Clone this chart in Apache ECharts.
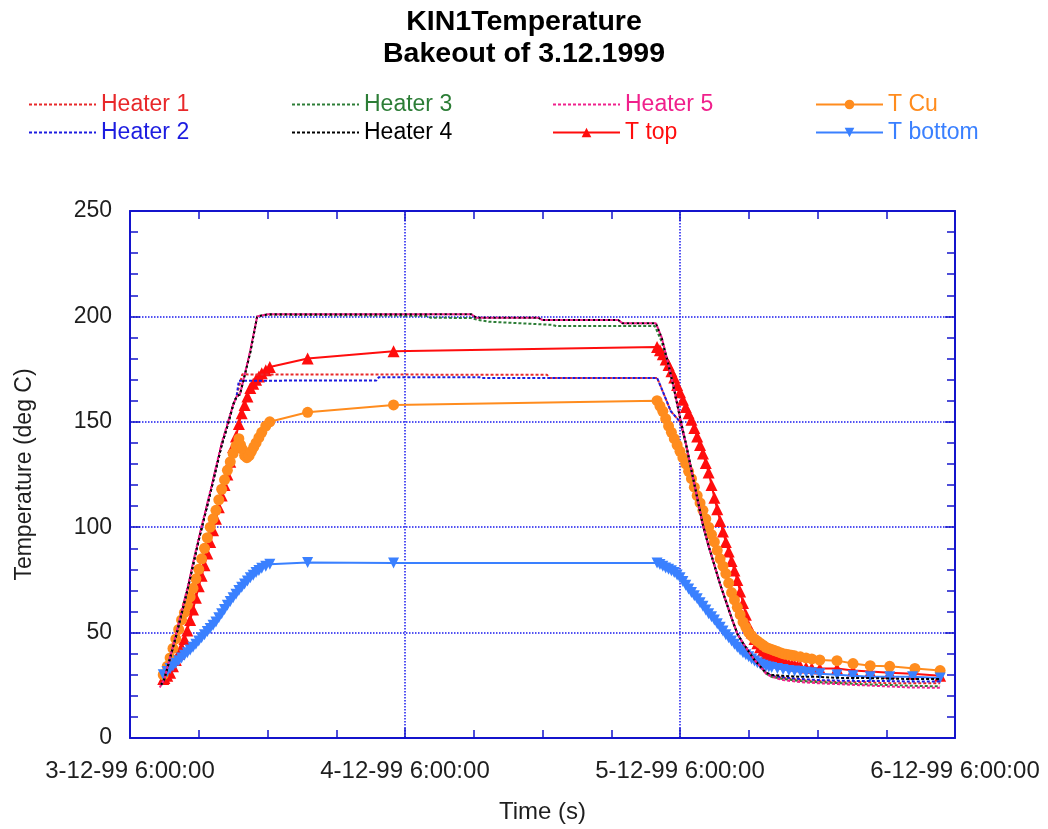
<!DOCTYPE html>
<html><head><meta charset="utf-8">
<script src="https://cdn.jsdelivr.net/npm/echarts@6/dist/echarts.min.js"></script>
<style>html,body{margin:0;padding:0;background:#fff}#c{width:1048px;height:829px}</style>
</head><body><div id="c"></div>
<script>
// x values: hours after 3-12-99 6:00:00
const xTickLabels = ['3-12-99 6:00:00', '4-12-99 6:00:00', '5-12-99 6:00:00', '6-12-99 6:00:00'];
const yTickValues = [0, 50, 100, 150, 200, 250];

const heater1 = [[2.7,25],[3.0,28],[4.0,48],[5.0,70],[6.0,94],[7.0,116],[8.0,139],[8.5,148],[9.0,158],[9.3,162],[9.8,172.5],[36.4,172.3],[36.6,170.8],[46.0,170.8],[46.3,167],[47.2,155],[48.0,150],[48.5,140],[49.0,127],[49.5,114],[50.0,101],[50.5,91],[51.0,82],[51.5,73],[52.0,65],[52.5,57],[53.0,49.5],[53.5,45],[54.0,41],[54.5,37],[55.0,34],[55.5,31],[56.0,29.5],[57.0,28.5],[58.5,27.5],[60.0,27],[62.0,26.5],[64.0,26.5],[66.0,26],[68.0,26],[70.7,26]];
const heater2 = [[2.7,25],[3.0,28],[4.0,48],[5.0,70],[6.0,94],[7.0,116],[8.0,139],[8.5,148],[9.0,158],[9.3,162],[9.5,169.5],[21.5,169.6],[21.7,171.1],[30.5,171.1],[30.7,170.8],[46.0,170.8],[46.3,167],[47.2,155],[48.0,150],[48.5,140],[49.0,127],[49.5,114],[50.0,101],[50.5,91],[51.0,82],[51.5,73],[52.0,65],[52.5,57],[53.0,49.5],[53.5,45],[54.0,41],[54.5,37],[55.0,34],[55.5,31],[56.0,29.5],[57.0,28.8],[58.5,28],[60.0,27.5],[62.0,27.2],[64.0,27],[66.0,27],[68.0,26.8],[70.7,26.8]];
const heater3 = [[2.7,25],[3.0,28],[4.0,48],[5.0,70],[6.0,94],[7.0,116],[8.0,139],[8.5,148],[9.0,158],[9.3,162],[9.6,163],[10.5,183],[11.1,200],[12.0,200.8],[25.8,200.3],[26.2,199.4],[29.8,199.2],[30.3,198.4],[31.3,197.5],[36.8,196.0],[37.2,195.4],[45.8,195.4],[46.4,188],[47.0,177],[47.5,165],[48.0,152],[48.5,140],[49.0,127],[49.5,114],[50.0,101],[50.5,91],[51.0,82],[51.5,73],[52.0,65],[52.5,57],[53.0,49.5],[53.5,45],[54.0,41],[54.5,37],[55.0,34],[55.5,30.5],[56.0,29],[57.0,28],[58.5,27],[60.0,26.5],[62.0,26],[64.0,25.5],[66.0,25.2],[68.0,24.8],[70.7,24.5]];
const heater4 = [[2.7,25],[3.0,28],[4.0,48],[5.0,70],[6.0,94],[7.0,116],[8.0,139],[8.5,148],[9.0,158],[9.3,162],[9.6,163],[10.5,183],[11.1,200],[12.0,201],[29.8,201],[30.2,199.4],[35.6,199.4],[36.0,198.3],[42.6,198.3],[43.0,196.7],[45.9,196.7],[46.4,190],[47.0,177],[47.5,165],[48.0,152],[48.5,140],[49.0,127],[49.5,114],[50.0,101],[50.5,91],[51.0,82],[51.5,73],[52.0,65],[52.5,57],[53.0,49.5],[53.5,45],[54.0,41],[54.5,37],[55.0,34],[55.5,31],[56.0,30],[57.0,29.5],[58.5,29],[60.0,29],[62.0,28.5],[64.0,28.5],[66.0,28.2],[68.0,28],[70.7,28]];
const heater5 = [[2.6,24],[3.0,28],[4.0,49],[5.0,71],[6.0,95],[7.0,117],[8.0,140],[8.5,149],[9.0,158],[9.3,162],[9.6,163],[10.5,184],[11.1,200],[12.0,201],[29.8,201],[30.2,199.4],[35.6,199.4],[36.0,198.3],[42.6,198.3],[43.0,196.7],[45.9,196.7],[46.4,190],[47.0,177],[47.5,165],[48.0,152],[48.5,140],[49.0,127],[49.5,114],[50.0,101],[50.5,91],[51.0,82],[51.5,73],[52.0,65],[52.5,57],[53.0,49.5],[53.5,45],[54.0,41],[54.5,37],[55.0,34],[55.5,30.5],[56.0,29],[57.0,27.5],[58.5,26.5],[60.0,26],[62.0,25.5],[64.0,25],[66.0,24.5],[68.0,24],[70.7,23.8]];

const tCu = [[2.9,30],[3.25,34],[3.5,38],[3.75,42.5],[4.0,47],[4.25,51.5],[4.5,56],[4.75,59.5],[5.0,63],[5.25,67],[5.5,71],[5.75,75.5],[6.0,80],[6.25,85],[6.5,90],[6.75,95],[7.0,100],[7.25,104],[7.5,108],[7.75,113],[8.0,118],[8.25,122.5],[8.5,127],[8.75,131],[9.0,135],[9.25,138.5],[9.5,142],[9.65,139],[9.8,137],[10.0,134],[10.2,133],[10.4,134],[10.6,136],[10.8,138],[11.0,140],[11.25,142.5],[11.5,145],[11.85,148],[12.2,150],[15.5,154.5],[23.0,158],
  [46.0,160],[46.25,157.5],[46.5,155],[46.75,151.5],[47.0,148],[47.25,145],[47.5,142],[47.75,139],[48.0,136],[48.25,133],[48.5,130],[48.75,126.5],[49.0,123],[49.25,119],[49.5,115],[49.75,111.5],[50.0,108],[50.25,104],[50.5,100],[50.75,96.5],[51.0,93],[51.25,89],[51.5,85],[51.75,81.5],[52.0,78],[52.25,73.5],[52.5,69],[52.75,65.5],[53.0,62],[53.25,58.5],[53.5,55],[53.75,52.5],[54.0,50],[54.25,48.5],[54.5,47],[54.75,46],[55.0,45],[55.25,44],[55.5,43],[55.75,42.5],[56.0,42],[56.25,41.5],[56.5,41],[56.75,40.5],[57.0,40],[57.25,39.7],[57.5,39.5],[57.75,39.2],[58.0,39],[58.5,38.5],[59.0,38],[59.5,37.5],[60.2,37],[61.7,36.7],[63.1,35.3],[64.6,34.3],[66.3,34],[68.5,33],[70.7,32]];
const tTop = [[2.9,28],[3.0,28.5],[3.25,29.5],[3.5,31],[3.75,34],[4.0,37],[4.25,40],[4.5,43],[4.75,47],[5.0,51],[5.25,56],[5.5,61],[5.75,66.5],[6.0,72],[6.25,77],[6.5,82],[6.75,87.5],[7.0,93],[7.25,98.5],[7.5,104],[7.75,109.5],[8.0,115],[8.25,120],[8.5,125],[8.75,131],[9.0,138],[9.25,143],[9.5,149],[9.75,154],[10.0,158],[10.25,162],[10.5,166],[10.75,168],[11.0,170],[11.25,171.5],[11.5,173],[11.85,174.5],[12.2,176],[15.5,180],[23.0,183.5],
  [46.0,185.5],[46.25,184],[46.5,182],[46.75,179.5],[47.0,177],[47.25,174],[47.5,171],[47.75,167.5],[48.0,164],[48.25,160.5],[48.5,157],[48.75,154],[49.0,151],[49.25,147],[49.5,143],[49.75,139],[50.0,135],[50.25,130.5],[50.5,126],[50.75,120],[51.0,114],[51.25,108.5],[51.5,103],[51.75,98],[52.0,93],[52.25,88.5],[52.5,84],[52.75,79.5],[53.0,75],[53.25,69.5],[53.5,64],[53.75,58.5],[54.0,53],[54.25,50],[54.5,47],[54.75,45],[55.0,43],[55.25,41.5],[55.5,40],[55.75,39.2],[56.0,38.5],[56.25,37.7],[56.5,37],[56.75,36.5],[57.0,36],[57.25,35.5],[57.5,35],[57.75,34.7],[58.0,34.5],[58.25,34.2],[58.5,34],[59.0,33.5],[59.5,33.2],[60.2,33],[61.7,33],[63.1,32],[64.6,31.5],[66.3,31],[68.3,30.5],[70.7,29.5]];
const tBottom = [[2.9,30],[3.25,31.5],[3.5,33],[3.75,34.2],[4.0,35.5],[4.25,36.7],[4.5,38],[4.75,39.2],[5.0,40.5],[5.25,41.7],[5.5,43],[5.75,44.5],[6.0,46],[6.25,47.5],[6.5,49],[6.75,50.5],[7.0,52],[7.25,53.5],[7.5,55],[7.75,57],[8.0,59],[8.25,61],[8.5,63],[8.75,64.7],[9.0,66.5],[9.25,68.2],[9.5,70],[9.75,71.5],[10.0,73],[10.25,74.5],[10.5,76],[10.75,77.2],[11.0,78.5],[11.25,79.5],[11.5,80.5],[11.85,81.5],[12.2,82.4],[15.5,83.3],[23.0,83],
  [46.0,83],[46.25,82.3],[46.5,81.5],[46.75,80.7],[47.0,80],[47.25,79.3],[47.5,78.5],[47.75,77.3],[48.0,76],[48.25,74.2],[48.5,72.5],[48.75,70.7],[49.0,69],[49.25,67.5],[49.5,66],[49.75,64.2],[50.0,62.5],[50.25,60.7],[50.5,59],[50.75,57.5],[51.0,56],[51.25,54.2],[51.5,52.5],[51.75,50.7],[52.0,49],[52.25,47.5],[52.5,46],[52.75,44.5],[53.0,43],[53.25,41.7],[53.5,40.5],[53.75,39.5],[54.0,38.5],[54.25,37.5],[54.5,36.5],[54.75,35.7],[55.0,35],[55.25,34.5],[55.5,34],[55.75,33.7],[56.0,33.5],[56.5,33],[57.0,32.5],[57.5,32],[58.0,31.8],[58.5,31.5],[59.0,31.2],[59.5,31],[60.2,30.5],[61.7,30],[63.1,29.5],[64.6,29],[66.3,29],[68.3,29],[70.7,28.5]];

const FONT = '"Liberation Sans", Arial, sans-serif';
const AXIS = '#1414cc';
const GRIDC = '#1a1aee';
const TXT = '#1e1e1e';
const C = {h1:'#e8282a', h2:'#1c1ce0', h3:'#2c7d36', h4:'#000000', h5:'#f0208c', cu:'#ff8c1e', top:'#ff0d0d', bot:'#3a80ff'};

function heater(name, data, color, z) {
  return {name, type:'line', data, symbol:'none', z, animation:false,
    lineStyle:{color, width:2, type:[3,2]}, itemStyle:{color}};
}
function tser(name, data, color, symbol, size, rotate, z) {
  return {name, type:'line', data, symbol, symbolSize:size, symbolRotate:rotate, showAllSymbol:true, z, animation:false,
    lineStyle:{color, width:2}, itemStyle:{color}};
}
const legendBase = {orient:'vertical', top:93, padding:0, itemWidth:67, itemHeight:12, itemGap:5, itemTextGap:9, selectedMode:false,
  textStyle:{fontSize:23, fontFamily:FONT}};
function li(name, color, noMark){
  const o = {name, textStyle:{color}};
  if (noMark) o.itemStyle = {opacity:0};
  return o;
}

const xCommon = {type:'value', min:0, max:72, interval:24,
  axisLine:{show:true, onZero:false, lineStyle:{color:AXIS, width:2}},
  axisTick:{show:true, inside:true, length:10, lineStyle:{color:AXIS, width:1.5}},
  minorTick:{show:true, splitNumber:4, length:8, lineStyle:{color:AXIS, width:1.5}}};
const yCommon = {type:'value', min:0, max:250, interval:50,
  axisLine:{show:true, onZero:false, lineStyle:{color:AXIS, width:2}},
  axisTick:{show:true, inside:true, length:10, lineStyle:{color:AXIS, width:1.5}},
  minorTick:{show:true, splitNumber:5, length:8, lineStyle:{color:AXIS, width:1.5}}};

const option = {
  backgroundColor:'#fff',
  animation:false,
  title:{text:'KIN1Temperature\nBakeout of 3.12.1999', left:'center', top:1,
    textStyle:{fontSize:28.5, fontWeight:'bold', fontFamily:FONT, color:'#000', lineHeight:32}},
  legend:[
    Object.assign({left:28, data:[li('Heater 1',C.h1,true), li('Heater 2',C.h2,true)]}, legendBase),
    Object.assign({left:291, data:[li('Heater 3',C.h3,true), li('Heater 4',C.h4,true)]}, legendBase),
    Object.assign({left:552, data:[li('Heater 5',C.h5,true), li('T top',C.top)]}, legendBase),
    Object.assign({left:815, data:[li('T Cu',C.cu), li('T bottom',C.bot)]}, legendBase)
  ],
  grid:{left:130, right:93, top:211, bottom:87, containLabel:false},
  xAxis:[
    Object.assign({position:'bottom',
      splitLine:{show:true, lineStyle:{color:GRIDC, type:[1.5,1.5], width:1.5}},
      axisLabel:{formatter:v => xTickLabels[Math.round(v/24)], fontSize:24, color:TXT, margin:21, fontFamily:FONT, showMaxLabel:true, showMinLabel:true},
      name:'Time (s)', nameLocation:'middle', nameGap:62, nameTextStyle:{fontSize:24, color:TXT, fontFamily:FONT}}, xCommon),
    Object.assign({position:'top', axisLabel:{show:false}, splitLine:{show:false}}, xCommon)
  ],
  yAxis:[
    Object.assign({position:'left',
      splitLine:{show:true, lineStyle:{color:GRIDC, type:[1.5,1.5], width:1.5}},
      axisLabel:{fontSize:23, color:TXT, margin:18, fontFamily:FONT, formatter:v => String(yTickValues[Math.round(v/50)])},
      name:'Temperature (deg C)', nameLocation:'middle', nameGap:94, nameRotate:90,
      nameTextStyle:{fontSize:23, color:TXT, fontFamily:FONT}}, yCommon),
    Object.assign({position:'right', axisLabel:{show:false}, splitLine:{show:false}}, yCommon)
  ],
  series:[
    heater('Heater 1', heater1, C.h1, 6),
    heater('Heater 2', heater2, C.h2, 6),
    heater('Heater 3', heater3, C.h3, 6),
    heater('Heater 4', heater4, C.h4, 6),
    heater('Heater 5', heater5, C.h5, 6),
    tser('T Cu', tCu, C.cu, 'circle', 11, 0, 4),
    tser('T top', tTop, C.top, 'triangle', 12, 0, 3),
    tser('T bottom', tBottom, C.bot, 'triangle', 11, 180, 5)
  ]
};
const chart = echarts.init(document.getElementById('c'), null, {renderer:'canvas'});
chart.setOption(option);
</script>
</body></html>
